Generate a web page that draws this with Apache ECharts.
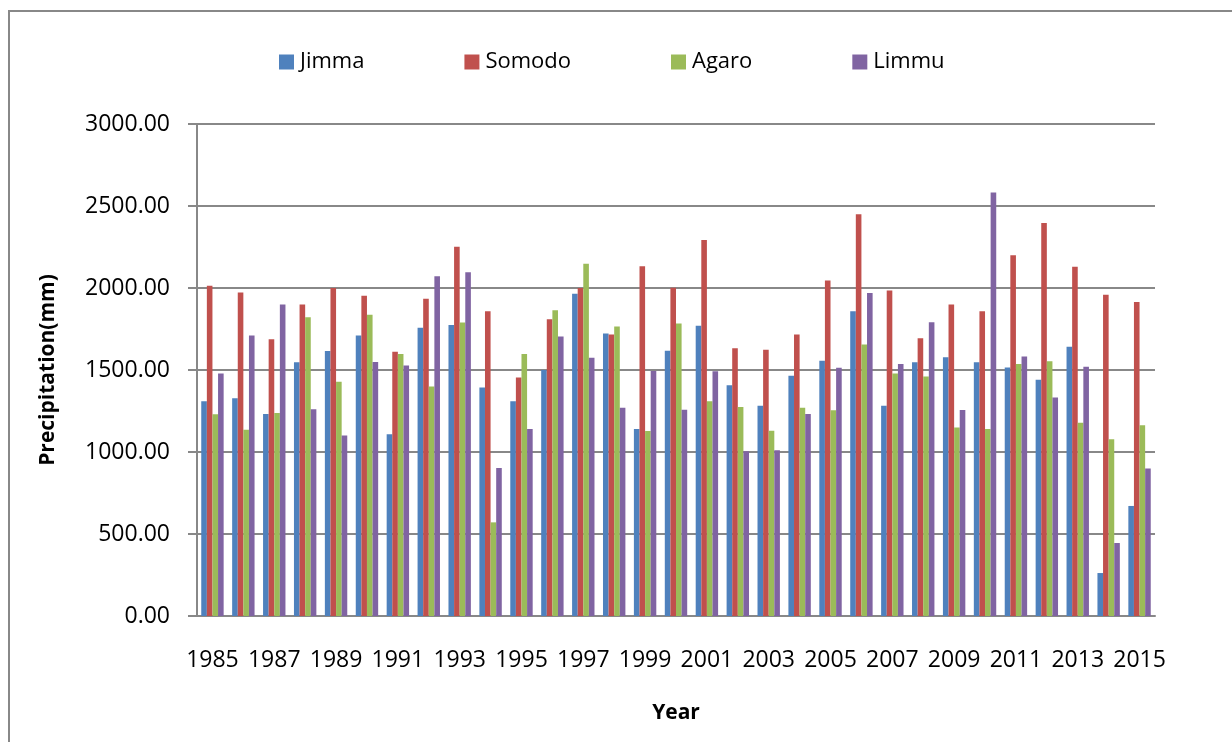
<!DOCTYPE html>
<html>
<head>
<meta charset="utf-8">
<title>Precipitation by station</title>
<script src="https://cdn.jsdelivr.net/npm/echarts@6/dist/echarts.min.js"></script>
<style>
  html, body { margin: 0; padding: 0; background: #fff; }
  #chart { width: 1232px; height: 742px; }
</style>
</head>
<body>
<div id="chart"></div>
<script>
const years = ['1985', '1986', '1987', '1988', '1989', '1990', '1991', '1992', '1993', '1994',
  '1995', '1996', '1997', '1998', '1999', '2000', '2001', '2002', '2003', '2004',
  '2005', '2006', '2007', '2008', '2009', '2010', '2011', '2012', '2013', '2014', '2015']

const jimma = [1309, 1327, 1232, 1547, 1616, 1711, 1108, 1758, 1774, 1394,
  1309, 1500, 1965, 1722, 1140, 1618, 1770, 1407, 1282, 1465,
  1557, 1858, 1282, 1547, 1577, 1547, 1516, 1441, 1642, 262, 671]
const somodo = [2014, 1972, 1687, 1900, 2000, 1953, 1612, 1935, 2252, 1858,
  1455, 1809, 2000, 1717, 2132, 2002, 2293, 1632, 1624, 1717,
  2045, 2449, 1984, 1693, 1900, 1858, 2199, 2396, 2130, 1959, 1915]
const agaro = [1230, 1136, 1238, 1821, 1429, 1837, 1598, 1400, 1789, 571,
  1598, 1864, 2148, 1766, 1128, 1783, 1309, 1274, 1130, 1270,
  1254, 1656, 1478, 1461, 1150, 1140, 1537, 1553, 1179, 1077, 1163]
const limmu = [1478, 1711, 1900, 1260, 1100, 1549, 1528, 2071, 2096, 902,
  1140, 1705, 1575, 1270, 1494, 1258, 1492, 1004, 1010, 1232,
  1514, 1969, 1537, 1791, 1256, 2583, 1583, 1333, 1520, 445, 900]

const STATIONS = [
  { name: 'Jimma', data: jimma, color: '#4F81BD' },
  { name: 'Somodo', data: somodo, color: '#C0504D' },
  { name: 'Agaro', data: agaro, color: '#9BBB59' },
  { name: 'Limmu', data: limmu, color: '#8064A2' }
]

const FONT = '"Open Sans", "Noto Sans", sans-serif'
const GRAY = '#888888'

const chart = echarts.init(document.getElementById('chart'), null, { renderer: 'canvas' })

chart.setOption({
  backgroundColor: '#fff',
  animation: false,
  textStyle: { fontFamily: FONT, color: '#000' },
  graphic: [{
    type: 'rect',
    silent: true,
    shape: { x: 9, y: 11, width: 1400, height: 900 },
    style: { fill: 'none', stroke: GRAY, lineWidth: 2 }
  }],
  legend: {
    top: 45,
    left: 274,
    itemWidth: 15,
    itemHeight: 15,
    itemGap: 100,
    icon: 'rect',
    textStyle: { fontFamily: FONT, fontSize: 22, color: '#000', lineHeight: 24, padding: [0, 0, 0, 1] },
    data: STATIONS.map(s => s.name)
  },
  grid: { left: 197, right: 77, top: 124, bottom: 126 },
  xAxis: {
    type: 'category',
    data: years,
    name: 'Year',
    nameLocation: 'middle',
    nameGap: 87,
    nameTextStyle: { fontFamily: FONT, fontSize: 21, fontWeight: 'bold', color: '#000' },
    axisLine: { lineStyle: { color: GRAY, width: 2 } },
    axisTick: { show: false },
    axisLabel: { interval: 1, margin: 33, fontSize: 23, color: '#000', fontFamily: FONT },
    splitLine: { show: false }
  },
  yAxis: {
    type: 'value',
    min: 0,
    max: 3000,
    interval: 500,
    name: 'Precipitation(mm)',
    nameLocation: 'middle',
    nameGap: 138,
    nameTextStyle: { fontFamily: FONT, fontSize: 21, fontWeight: 'bold', color: '#000' },
    axisLine: { show: true, lineStyle: { color: GRAY, width: 2 } },
    axisTick: { show: true, length: 9, lineStyle: { color: GRAY, width: 2 } },
    axisLabel: {
      margin: 27,
      fontSize: 23,
      color: '#000',
      fontFamily: FONT,
      formatter: v => v.toFixed(2)
    },
    splitLine: { lineStyle: { color: GRAY, width: 2 } }
  },
  series: STATIONS.map(s => ({
    name: s.name,
    type: 'bar',
    data: s.data,
    barWidth: 5.6,
    barGap: '0%',
    itemStyle: { color: s.color }
  }))
})
</script>
</body>
</html>
